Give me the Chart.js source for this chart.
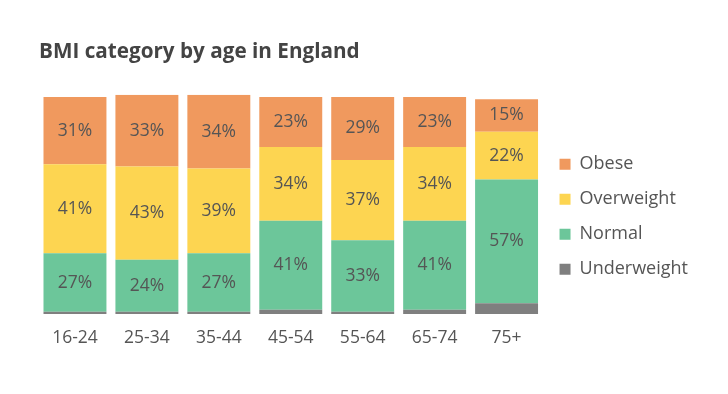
<!DOCTYPE html>
<html>
<head>
<meta charset="utf-8">
<script src="https://cdn.jsdelivr.net/npm/chart.js@4/dist/chart.umd.min.js"></script>
<style>
  html, body { margin: 0; padding: 0; background: #fff; }
  #wrap { width: 728px; height: 394px; }
</style>
</head>
<body>
<div id="wrap"><canvas id="bmiChart"></canvas></div>
<script>
const ageGroups = ['16-24', '25-34', '35-44', '45-54', '55-64', '65-74', '75+'];
const underweight = [1, 1, 1, 2, 1, 2, 5];
const normal = [27, 24, 27, 41, 33, 41, 57];
const overweight = [41, 43, 39, 34, 37, 34, 22];
const obese = [31, 33, 34, 23, 29, 23, 15];

const textColor = '#555555';

// writes the % value in the middle of each segment (not for underweight)
const segmentLabels = {
  id: 'segmentLabels',
  afterDatasetsDraw(chart) {
    const ctx = chart.ctx;
    ctx.save();
    ctx.font = '17.5px "Open Sans"';
    ctx.fillStyle = textColor;
    ctx.textAlign = 'center';
    ctx.textBaseline = 'middle';
    chart.data.datasets.forEach((ds, i) => {
      if (ds.label === 'Underweight') return;
      chart.getDatasetMeta(i).data.forEach((bar, j) => {
        const p = bar.getCenterPoint();
        ctx.fillText(ds.data[j] + '%', p.x, p.y);
      });
    });
    ctx.restore();
  }
};

new Chart(document.getElementById('bmiChart'), {
  type: 'bar',
  data: {
    labels: ageGroups,
    datasets: [
      { label: 'Underweight', data: underweight, backgroundColor: '#7f7f7f' },
      { label: 'Normal', data: normal, backgroundColor: '#6cc69a' },
      { label: 'Overweight', data: overweight, backgroundColor: '#fdd551' },
      { label: 'Obese', data: obese, backgroundColor: '#f0995e' }
    ]
  },
  options: {
    responsive: true,
    maintainAspectRatio: false,
    animation: false,
    layout: { padding: { left: 39, right: 30, top: 0, bottom: 39 } },
    datasets: { bar: { barPercentage: 0.875, categoryPercentage: 1 } },
    scales: {
      x: {
        stacked: true,
        grid: { display: false },
        border: { display: false },
        ticks: { color: textColor, font: { family: 'Open Sans', size: 17.5 }, padding: 6 }
      },
      y: {
        stacked: true,
        display: false,
        min: 0,
        max: 101
      }
    },
    plugins: {
      title: {
        display: true,
        text: 'BMI category by age in England',
        align: 'start',
        color: '#444444',
        font: { family: 'Open Sans', size: 20.7, weight: 'bold' },
        padding: { top: 40, bottom: 30 }
      },
      legend: {
        position: 'right',
        align: 'start',
        reverse: true,
        // blank title only pushes the legend items down
        title: { display: true, text: ' ', font: { size: 1 }, padding: { top: 137, bottom: 0 } },
        labels: {
          color: textColor,
          font: { family: 'Open Sans', size: 18 },
          boxWidth: 11,
          boxHeight: 11,
          padding: 17
        }
      },
      tooltip: { enabled: false }
    }
  },
  plugins: [segmentLabels]
});
</script>
</body>
</html>
